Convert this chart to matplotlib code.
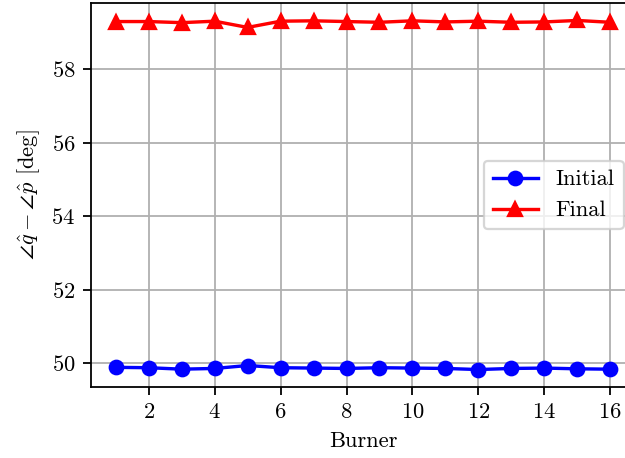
import numpy as np
import matplotlib
matplotlib.use('Agg')
import matplotlib.pyplot as plt

plt.rcParams['font.family'] = 'serif'
plt.rcParams['font.serif'] = ['cmr10']
plt.rcParams['mathtext.fontset'] = 'cm'
plt.rcParams['axes.formatter.use_mathtext'] = True
plt.rcParams['font.size'] = 10

burner = np.arange(1, 17)
initial = [49.88, 49.87, 49.83, 49.85, 49.93, 49.87, 49.86, 49.85,
           49.87, 49.86, 49.85, 49.82, 49.85, 49.86, 49.84, 49.83]
final = [59.30, 59.30, 59.27, 59.31, 59.14, 59.31, 59.32, 59.30,
         59.28, 59.32, 59.29, 59.31, 59.28, 59.29, 59.33, 59.28]

fig = plt.figure(figsize=(625 / 162, 458 / 162), dpi=162)
# right spine falls just outside the saved image, as in the reference
ax = fig.add_axes([91 / 625, 71 / 458, 544 / 625, 384 / 458])
ax.plot(burner, initial, 'b-o', label='Initial')
ax.plot(burner, final, 'r-^', label='Final')
ax.set_xlabel('Burner')
ax.set_ylabel(r'$\angle \hat{q} - \angle \hat{p}$ [deg]')
ax.set_xticks(range(2, 17, 2))
ax.grid(True)
ax.legend(loc='center right')

fig.savefig('out.png', dpi=162)
